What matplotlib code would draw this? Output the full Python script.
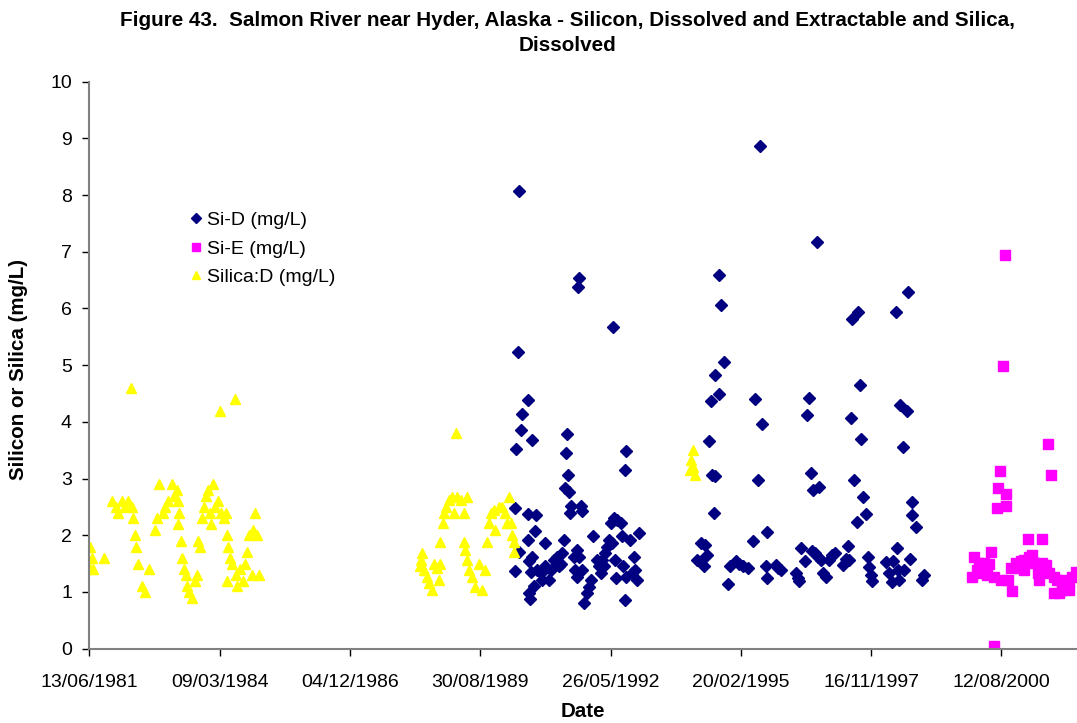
import datetime as dt
import matplotlib
matplotlib.use('Agg')
import matplotlib.pyplot as plt
import matplotlib.dates as mdates

plt.rcParams['font.family'] = ['Liberation Sans', 'DejaVu Sans']

# Values (decimal year, mg/L)
sid_year = [
    1990.67, 1990.53, 1990.51, 1990.74, 1990.42, 1990.40, 1990.67, 1990.84, 1990.81, 1990.67,
    1990.47, 1990.39, 1990.68, 1990.75, 1990.68, 1990.70, 1990.79, 1990.72, 1990.86, 1990.93,
    1990.96, 1991.03, 1991.03, 1991.10, 1991.14, 1991.21, 1991.28, 1991.31, 1991.38, 1991.35,
    1991.42, 1991.45, 1991.53, 1991.49, 1991.47, 1991.50, 1991.57, 1991.54, 1991.77, 1991.80,
    1991.63, 1991.70, 1991.73, 1991.66, 1991.70, 1991.80, 1991.84, 1991.91, 1991.94, 1991.98,
    1992.03, 1992.12, 1992.15, 1992.19, 1992.22, 1992.26, 1992.29, 1992.33, 1992.36, 1992.40,
    1992.47, 1992.54, 1992.61, 1992.43, 1992.50, 1992.52, 1992.64, 1992.67, 1992.70, 1992.71,
    1992.73, 1992.73, 1992.80, 1992.85, 1992.89, 1992.92, 1992.96, 1992.99,
    1990.47, 1991.73, 1991.72, 1992.45, 1990.46,
    1994.60, 1994.67, 1994.50, 1994.46, 1994.53, 1994.60, 1994.57, 1994.29, 1994.39, 1994.43,
    1994.22, 1994.29, 1994.36,
    1995.54, 1996.74, 1994.68, 1994.73, 1998.64, 1998.40, 1997.59, 1997.48, 1994.79,
    1995.43, 1995.59, 1995.49, 1995.68, 1995.40, 1994.86, 1994.91, 1995.03, 1995.10, 1995.19,
    1995.28, 1995.66, 1995.68, 1995.87, 1995.92, 1995.98, 1996.29, 1996.33, 1996.36, 1996.41,
    1996.48, 1996.52, 1996.57, 1996.61, 1996.66, 1996.78, 1996.64, 1996.69, 1996.75, 1996.83,
    1996.87, 1996.92, 1996.99, 1997.06, 1997.11, 1997.29, 1997.34, 1997.38, 1997.41, 1997.45,
    1997.52, 1997.57, 1997.64, 1997.67, 1997.71, 1997.76, 1997.80, 1997.83, 1997.87, 1997.90,
    1998.18, 1998.25, 1998.32, 1998.34, 1998.41, 1998.43, 1998.46, 1998.48, 1998.62, 1998.54,
    1998.57, 1998.69, 1998.73, 1998.73, 1998.81, 1998.95, 1998.99,
]
sid_val = [
    4.39, 4.14, 3.85, 3.68, 3.52, 2.48, 2.38, 2.35, 2.08, 1.92,
    1.71, 1.37, 1.54, 1.62, 0.98, 0.87, 1.11, 1.36, 1.39, 1.33,
    1.21, 1.86, 1.45, 1.21, 1.39, 1.56, 1.62, 1.45, 1.68, 1.50,
    1.92, 2.83, 2.77, 3.79, 3.45, 3.06, 2.51, 2.39, 2.51, 2.42,
    1.62, 1.74, 1.62, 1.39, 1.27, 1.39, 0.80, 0.98, 1.09, 1.21,
    1.99, 1.56, 1.45, 1.33, 1.56, 1.45, 1.68, 1.80, 1.92, 2.21,
    2.30, 2.27, 2.21, 1.86, 1.56, 1.24, 1.98, 1.45, 0.86, 3.15,
    3.48, 1.27, 1.92, 1.33, 1.62, 1.39, 1.21, 2.04,
    8.08, 6.54, 6.38, 5.68, 5.23,
    4.83, 4.50, 4.36, 3.67, 3.06, 3.04, 2.40, 1.86, 1.83, 1.66,
    1.56, 1.54, 1.45,
    8.87, 7.17, 6.59, 6.07, 6.29, 5.94, 5.93, 5.82, 5.05,
    4.41, 3.96, 2.98, 2.06, 1.90, 1.14, 1.45, 1.54, 1.49, 1.45,
    1.42, 1.45, 1.24, 1.48, 1.42, 1.39, 1.33, 1.24, 1.20, 1.77,
    1.55, 4.12, 4.43, 3.09, 2.79, 2.85, 1.73, 1.68, 1.62, 1.56,
    1.33, 1.26, 1.56, 1.65, 1.68, 1.48, 1.58, 1.81, 1.56, 4.06,
    2.98, 2.23, 4.65, 3.69, 2.67, 2.38, 1.62, 1.44, 1.30, 1.20,
    1.52, 1.33, 1.18, 1.54, 1.77, 1.39, 1.21, 4.30, 4.20, 3.55,
    1.38, 1.59, 2.59, 2.36, 2.15, 1.21, 1.30,
]

sie_year = [
    2000.69, 2000.65, 2001.58, 2001.66, 2000.58, 2000.55, 2000.70, 2000.70, 2000.51, 2001.16,
    2001.47, 2000.40, 2000.04, 2000.14, 2000.25, 2000.35, 2000.00, 2000.11, 2000.21, 2000.32,
    2000.46, 2000.60, 2000.74, 2000.84, 2000.81, 2000.91, 2000.98, 2001.02, 2001.09, 2001.19,
    2001.26, 2001.30, 2001.37, 2001.40, 2001.47, 2001.54, 2001.61, 2001.72, 2001.72, 2001.82,
    2001.89, 2001.78, 2001.93, 2002.03, 2002.10, 2002.17, 2000.46, 2001.09, 2002.03,
]
sie_val = [
    6.95, 4.98, 3.61, 3.06, 3.14, 2.84, 2.73, 2.52, 2.48, 1.93,
    1.93, 1.71, 1.62, 1.51, 1.51, 1.49, 1.27, 1.39, 1.33, 1.30,
    1.27, 1.21, 1.21, 1.01, 1.42, 1.51, 1.42, 1.54, 1.56, 1.62,
    1.65, 1.51, 1.33, 1.21, 1.51, 1.48, 1.33, 1.27, 0.98, 0.98,
    1.04, 1.21, 1.21, 1.18, 1.27, 1.36, 0.05, 1.39, 1.04,
]

silica_year = [
    1981.46, 1981.50, 1981.46, 1981.53, 1981.76, 1981.92, 1982.00, 1982.06, 1982.13, 1982.20,
    1982.27, 1982.32, 1982.34, 1982.36, 1982.41, 1982.43, 1982.47, 1982.55, 1982.62, 1982.71,
    1982.83, 1982.87, 1982.92, 1982.99, 1983.04, 1983.11, 1983.18, 1983.22, 1983.29, 1983.32,
    1983.34, 1983.32, 1983.37, 1983.39, 1983.43, 1983.48, 1983.51, 1983.55, 1983.60, 1983.67,
    1983.72, 1983.74, 1983.77, 1983.81, 1983.86, 1983.90, 1983.95, 1983.99, 1984.00, 1984.04,
    1984.09, 1984.16, 1984.19, 1984.21, 1984.28, 1984.32, 1984.34, 1984.35, 1984.37, 1984.41,
    1984.44, 1984.51, 1984.53, 1984.56, 1984.61, 1984.67, 1984.72, 1984.77, 1984.81, 1984.86,
    1984.89, 1984.93, 1984.97, 1985.02,
    1988.44, 1988.41, 1988.40, 1988.48, 1988.55, 1988.58, 1988.65, 1988.69, 1988.76, 1988.79,
    1988.81, 1988.82, 1988.88, 1988.90, 1988.95, 1989.00, 1989.07, 1989.16, 1989.11, 1989.18,
    1989.25, 1989.32, 1989.39, 1989.33, 1989.35, 1989.39, 1989.42, 1989.49, 1989.56, 1989.63,
    1989.70, 1989.77, 1989.81, 1989.84, 1989.88, 1989.95, 1989.98, 1990.05, 1990.12, 1990.19,
    1990.23, 1990.26, 1990.30, 1990.33, 1990.37, 1990.38,
    1994.13, 1994.10, 1994.06, 1994.17, 1994.13,
]
silica_val = [
    1.8, 1.6, 1.4, 1.4, 1.6, 2.6, 2.5, 2.4, 2.6, 2.5,
    2.6, 4.6, 2.5, 2.3, 2.0, 1.8, 1.5, 1.1, 1.0, 1.4,
    2.1, 2.3, 2.9, 2.4, 2.5, 2.6, 2.9, 2.7, 2.8, 2.6,
    2.4, 2.2, 1.9, 1.6, 1.4, 1.3, 1.1, 1.0, 0.9, 1.2,
    1.3, 1.9, 1.8, 2.3, 2.5, 2.7, 2.8, 2.4, 2.2, 2.9,
    2.5, 2.6, 4.2, 2.4, 2.3, 2.4, 1.2, 2.0, 1.8, 1.6,
    1.5, 4.4, 1.3, 1.1, 1.4, 1.2, 1.5, 1.7, 2.0, 1.3,
    2.1, 2.4, 2.0, 1.3,
    1.68, 1.56, 1.45, 1.39, 1.27, 1.15, 1.04, 1.50, 1.42, 1.21,
    1.89, 1.50, 2.21, 2.39, 2.50, 2.62, 2.68, 3.80, 2.39, 2.68,
    2.62, 2.39, 2.68, 1.89, 1.74, 1.56, 1.39, 1.27, 1.09, 1.50,
    1.04, 1.39, 1.89, 2.21, 2.39, 2.45, 2.09, 2.50, 2.50, 2.39,
    2.21, 2.68, 2.21, 2.00, 1.89, 1.70,
    3.50, 3.33, 3.15, 3.06, 3.20,
]


def to_date(y):
    year = int(y)
    start = dt.datetime(year, 1, 1)
    length = (dt.datetime(year + 1, 1, 1) - start).days
    return start + dt.timedelta(days=(y - year) * length)


def do_plot():
    fig = plt.figure(figsize=(10.77, 7.23), dpi=100)
    ax = fig.add_axes([0.0829, 0.1028, 0.9171, 0.7842])

    ax.plot([to_date(y) for y in sid_year], sid_val, 'D', color='#000080',
            markersize=6, linestyle='none', label='Si-D (mg/L)')
    ax.plot([to_date(y) for y in sie_year], sie_val, 's', color='#FF00FF',
            markersize=6.5, linestyle='none', label='Si-E (mg/L)')
    ax.plot([to_date(y) for y in silica_year], silica_val, '^', color='#FFFF00',
            markersize=7.5, linestyle='none', label='Silica:D (mg/L)')

    start = dt.datetime(1981, 6, 13)
    ticks = [start + dt.timedelta(days=1000 * k) for k in range(8)]
    ax.set_xticks(ticks)
    ax.xaxis.set_major_formatter(mdates.DateFormatter('%d/%m/%Y'))
    ax.set_xlim(start, start + dt.timedelta(days=7580))
    ax.set_ylim(0, 10)
    ax.set_yticks(range(11))

    for side in ['top', 'right']:
        ax.spines[side].set_visible(False)
    for side in ['left', 'bottom']:
        ax.spines[side].set_color('#808080')
        ax.spines[side].set_linewidth(1.5)
    ax.tick_params(axis='both', direction='out', length=5, width=1,
                   labelsize=14, color='black')
    ax.tick_params(axis='x', pad=13)
    ax.tick_params(axis='y', pad=7.5)

    ax.set_xlabel('Date', fontsize=14.8, fontweight='bold', va='center')
    ax.xaxis.set_label_coords(0.5, -0.110)
    ax.set_ylabel('Silicon or Silica (mg/L)', fontsize=14.8, fontweight='bold', va='center')
    ax.yaxis.set_label_coords(-0.072, 0.493)

    fig.text(0.5265, 0.972, 'Figure 43.  Salmon River near Hyder, Alaska - Silicon, Dissolved and Extractable and Silica,',
             ha='center', va='center', fontsize=14.85, fontweight='bold')
    fig.text(0.5265, 0.937, 'Dissolved', ha='center', va='center', fontsize=14.85, fontweight='bold')

    fig.legend(loc='upper left', bbox_to_anchor=(0.1654, 0.718), frameon=False,
               fontsize=14, handletextpad=0.1, labelspacing=0.56,
               handlelength=1.0, markerscale=0.85, borderaxespad=0)

    fig.savefig('out.png', dpi=100)


if __name__ == '__main__':
    do_plot()
